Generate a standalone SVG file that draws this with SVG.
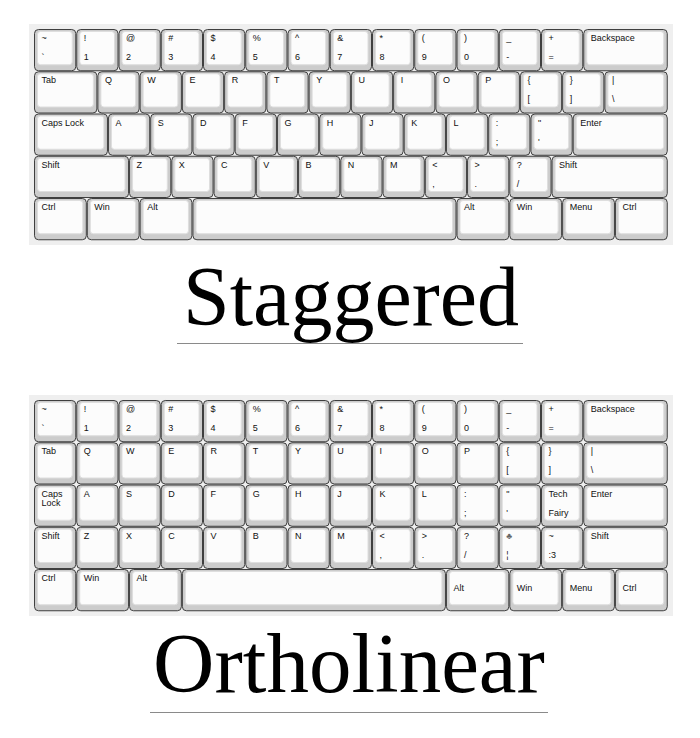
<svg xmlns="http://www.w3.org/2000/svg" xmlns:xlink="http://www.w3.org/1999/xlink" width="700" height="738" viewBox="0 0 700 738">
<style>
.bg{fill:#efefef}
.ko{fill:#cccccc;stroke:#3f3f3f;stroke-width:1}
.ki{fill:#fcfcfc;stroke:#dedede;stroke-width:1}
text.l{font-family:"Liberation Sans",Arial,sans-serif;font-size:9px;fill:#111}
.title{font-family:"Liberation Serif","Times New Roman",serif;fill:#000;text-anchor:middle}
.rule{stroke:#8a8a8a;stroke-width:1}
</style>
<defs>
<g id="k100"><rect class="ko" x="0.5" y="0.5" width="41.25" height="41.25" rx="4"/><rect class="ki" x="3.5" y="2.5" width="34.75" height="33.25" rx="3"/></g>
<g id="k125"><rect class="ko" x="0.5" y="0.5" width="51.81" height="41.25" rx="4"/><rect class="ki" x="3.5" y="2.5" width="45.31" height="33.25" rx="3"/></g>
<g id="k150"><rect class="ko" x="0.5" y="0.5" width="62.38" height="41.25" rx="4"/><rect class="ki" x="3.5" y="2.5" width="55.88" height="33.25" rx="3"/></g>
<g id="k175"><rect class="ko" x="0.5" y="0.5" width="72.94" height="41.25" rx="4"/><rect class="ki" x="3.5" y="2.5" width="66.44" height="33.25" rx="3"/></g>
<g id="k200"><rect class="ko" x="0.5" y="0.5" width="83.5" height="41.25" rx="4"/><rect class="ki" x="3.5" y="2.5" width="77" height="33.25" rx="3"/></g>
<g id="k225"><rect class="ko" x="0.5" y="0.5" width="94.06" height="41.25" rx="4"/><rect class="ki" x="3.5" y="2.5" width="87.56" height="33.25" rx="3"/></g>
<g id="k275"><rect class="ko" x="0.5" y="0.5" width="115.19" height="41.25" rx="4"/><rect class="ki" x="3.5" y="2.5" width="108.69" height="33.25" rx="3"/></g>
<g id="k625"><rect class="ko" x="0.5" y="0.5" width="263.06" height="41.25" rx="4"/><rect class="ki" x="3.5" y="2.5" width="256.56" height="33.25" rx="3"/></g>
</defs>
<rect width="700" height="738" fill="#ffffff"/>

<!-- Staggered keyboard -->
<g id="staggered">
<rect class="bg" x="29" y="24" width="644" height="221"/>
<g id="s1-01" transform="translate(34,29)"><use href="#k100"/><text class="l" x="7.5" y="12">~</text><text class="l" x="7.5" y="31">`</text></g>
<g id="s1-02" transform="translate(76.25,29)"><use href="#k100"/><text class="l" x="7.5" y="12">!</text><text class="l" x="7.5" y="31">1</text></g>
<g id="s1-03" transform="translate(118.5,29)"><use href="#k100"/><text class="l" x="7.5" y="12">@</text><text class="l" x="7.5" y="31">2</text></g>
<g id="s1-04" transform="translate(160.75,29)"><use href="#k100"/><text class="l" x="7.5" y="12">#</text><text class="l" x="7.5" y="31">3</text></g>
<g id="s1-05" transform="translate(203,29)"><use href="#k100"/><text class="l" x="7.5" y="12">$</text><text class="l" x="7.5" y="31">4</text></g>
<g id="s1-06" transform="translate(245.25,29)"><use href="#k100"/><text class="l" x="7.5" y="12">%</text><text class="l" x="7.5" y="31">5</text></g>
<g id="s1-07" transform="translate(287.5,29)"><use href="#k100"/><text class="l" x="7.5" y="12">^</text><text class="l" x="7.5" y="31">6</text></g>
<g id="s1-08" transform="translate(329.75,29)"><use href="#k100"/><text class="l" x="7.5" y="12">&amp;</text><text class="l" x="7.5" y="31">7</text></g>
<g id="s1-09" transform="translate(372,29)"><use href="#k100"/><text class="l" x="7.5" y="12">*</text><text class="l" x="7.5" y="31">8</text></g>
<g id="s1-10" transform="translate(414.25,29)"><use href="#k100"/><text class="l" x="7.5" y="12">(</text><text class="l" x="7.5" y="31">9</text></g>
<g id="s1-11" transform="translate(456.5,29)"><use href="#k100"/><text class="l" x="7.5" y="12">)</text><text class="l" x="7.5" y="31">0</text></g>
<g id="s1-12" transform="translate(498.75,29)"><use href="#k100"/><text class="l" x="7.5" y="12">_</text><text class="l" x="7.5" y="31">-</text></g>
<g id="s1-13" transform="translate(541,29)"><use href="#k100"/><text class="l" x="7.5" y="12">+</text><text class="l" x="7.5" y="31">=</text></g>
<g id="s1-14" transform="translate(583.25,29)"><use href="#k200"/><text class="l" x="7.5" y="12">Backspace</text></g>

<g id="s2-01" transform="translate(34,71.25)"><use href="#k150"/><text class="l" x="7.5" y="12">Tab</text></g>
<g id="s2-02" transform="translate(97.38,71.25)"><use href="#k100"/><text class="l" x="7.5" y="12">Q</text></g>
<g id="s2-03" transform="translate(139.63,71.25)"><use href="#k100"/><text class="l" x="7.5" y="12">W</text></g>
<g id="s2-04" transform="translate(181.88,71.25)"><use href="#k100"/><text class="l" x="7.5" y="12">E</text></g>
<g id="s2-05" transform="translate(224.13,71.25)"><use href="#k100"/><text class="l" x="7.5" y="12">R</text></g>
<g id="s2-06" transform="translate(266.38,71.25)"><use href="#k100"/><text class="l" x="7.5" y="12">T</text></g>
<g id="s2-07" transform="translate(308.63,71.25)"><use href="#k100"/><text class="l" x="7.5" y="12">Y</text></g>
<g id="s2-08" transform="translate(350.88,71.25)"><use href="#k100"/><text class="l" x="7.5" y="12">U</text></g>
<g id="s2-09" transform="translate(393.13,71.25)"><use href="#k100"/><text class="l" x="7.5" y="12">I</text></g>
<g id="s2-10" transform="translate(435.38,71.25)"><use href="#k100"/><text class="l" x="7.5" y="12">O</text></g>
<g id="s2-11" transform="translate(477.63,71.25)"><use href="#k100"/><text class="l" x="7.5" y="12">P</text></g>
<g id="s2-12" transform="translate(519.88,71.25)"><use href="#k100"/><text class="l" x="7.5" y="12">{</text><text class="l" x="7.5" y="31">[</text></g>
<g id="s2-13" transform="translate(562.13,71.25)"><use href="#k100"/><text class="l" x="7.5" y="12">}</text><text class="l" x="7.5" y="31">]</text></g>
<g id="s2-14" transform="translate(604.38,71.25)"><use href="#k150"/><text class="l" x="7.5" y="12">|</text><text class="l" x="7.5" y="31">\</text></g>

<g id="s3-01" transform="translate(34,113.5)"><use href="#k175"/><text class="l" x="7.5" y="12">Caps Lock</text></g>
<g id="s3-02" transform="translate(107.94,113.5)"><use href="#k100"/><text class="l" x="7.5" y="12">A</text></g>
<g id="s3-03" transform="translate(150.19,113.5)"><use href="#k100"/><text class="l" x="7.5" y="12">S</text></g>
<g id="s3-04" transform="translate(192.44,113.5)"><use href="#k100"/><text class="l" x="7.5" y="12">D</text></g>
<g id="s3-05" transform="translate(234.69,113.5)"><use href="#k100"/><text class="l" x="7.5" y="12">F</text></g>
<g id="s3-06" transform="translate(276.94,113.5)"><use href="#k100"/><text class="l" x="7.5" y="12">G</text></g>
<g id="s3-07" transform="translate(319.19,113.5)"><use href="#k100"/><text class="l" x="7.5" y="12">H</text></g>
<g id="s3-08" transform="translate(361.44,113.5)"><use href="#k100"/><text class="l" x="7.5" y="12">J</text></g>
<g id="s3-09" transform="translate(403.69,113.5)"><use href="#k100"/><text class="l" x="7.5" y="12">K</text></g>
<g id="s3-10" transform="translate(445.94,113.5)"><use href="#k100"/><text class="l" x="7.5" y="12">L</text></g>
<g id="s3-11" transform="translate(488.19,113.5)"><use href="#k100"/><text class="l" x="7.5" y="12">:</text><text class="l" x="7.5" y="31">;</text></g>
<g id="s3-12" transform="translate(530.44,113.5)"><use href="#k100"/><text class="l" x="7.5" y="12">"</text><text class="l" x="7.5" y="31">'</text></g>
<g id="s3-13" transform="translate(572.69,113.5)"><use href="#k225"/><text class="l" x="7.5" y="12">Enter</text></g>

<g id="s4-01" transform="translate(34,155.75)"><use href="#k225"/><text class="l" x="7.5" y="12">Shift</text></g>
<g id="s4-02" transform="translate(129.06,155.75)"><use href="#k100"/><text class="l" x="7.5" y="12">Z</text></g>
<g id="s4-03" transform="translate(171.31,155.75)"><use href="#k100"/><text class="l" x="7.5" y="12">X</text></g>
<g id="s4-04" transform="translate(213.56,155.75)"><use href="#k100"/><text class="l" x="7.5" y="12">C</text></g>
<g id="s4-05" transform="translate(255.81,155.75)"><use href="#k100"/><text class="l" x="7.5" y="12">V</text></g>
<g id="s4-06" transform="translate(298.06,155.75)"><use href="#k100"/><text class="l" x="7.5" y="12">B</text></g>
<g id="s4-07" transform="translate(340.31,155.75)"><use href="#k100"/><text class="l" x="7.5" y="12">N</text></g>
<g id="s4-08" transform="translate(382.56,155.75)"><use href="#k100"/><text class="l" x="7.5" y="12">M</text></g>
<g id="s4-09" transform="translate(424.81,155.75)"><use href="#k100"/><text class="l" x="7.5" y="12">&lt;</text><text class="l" x="7.5" y="31">,</text></g>
<g id="s4-10" transform="translate(467.06,155.75)"><use href="#k100"/><text class="l" x="7.5" y="12">&gt;</text><text class="l" x="7.5" y="31">.</text></g>
<g id="s4-11" transform="translate(509.31,155.75)"><use href="#k100"/><text class="l" x="7.5" y="12">?</text><text class="l" x="7.5" y="31">/</text></g>
<g id="s4-12" transform="translate(551.56,155.75)"><use href="#k275"/><text class="l" x="7.5" y="12">Shift</text></g>

<g id="s5-01" transform="translate(34,198)"><use href="#k125"/><text class="l" x="7.5" y="12">Ctrl</text></g>
<g id="s5-02" transform="translate(86.81,198)"><use href="#k125"/><text class="l" x="7.5" y="12">Win</text></g>
<g id="s5-03" transform="translate(139.63,198)"><use href="#k125"/><text class="l" x="7.5" y="12">Alt</text></g>
<g id="s5-04" transform="translate(192.44,198)"><use href="#k625"/></g>
<g id="s5-05" transform="translate(456.5,198)"><use href="#k125"/><text class="l" x="7.5" y="12">Alt</text></g>
<g id="s5-06" transform="translate(509.31,198)"><use href="#k125"/><text class="l" x="7.5" y="12">Win</text></g>
<g id="s5-07" transform="translate(562.13,198)"><use href="#k125"/><text class="l" x="7.5" y="12">Menu</text></g>
<g id="s5-08" transform="translate(614.94,198)"><use href="#k125"/><text class="l" x="7.5" y="12">Ctrl</text></g>
</g>

<g id="title-staggered">
<text class="title" x="351" y="325" font-size="84">Staggered</text>
<line class="rule" x1="177" y1="343.5" x2="523" y2="343.5"/>
</g>

<!-- Ortholinear keyboard -->
<g id="ortholinear">
<rect class="bg" x="29" y="395" width="644" height="221"/>
<g id="o1-01" transform="translate(34,400)"><use href="#k100"/><text class="l" x="7.5" y="12">~</text><text class="l" x="7.5" y="31">`</text></g>
<g id="o1-02" transform="translate(76.25,400)"><use href="#k100"/><text class="l" x="7.5" y="12">!</text><text class="l" x="7.5" y="31">1</text></g>
<g id="o1-03" transform="translate(118.5,400)"><use href="#k100"/><text class="l" x="7.5" y="12">@</text><text class="l" x="7.5" y="31">2</text></g>
<g id="o1-04" transform="translate(160.75,400)"><use href="#k100"/><text class="l" x="7.5" y="12">#</text><text class="l" x="7.5" y="31">3</text></g>
<g id="o1-05" transform="translate(203,400)"><use href="#k100"/><text class="l" x="7.5" y="12">$</text><text class="l" x="7.5" y="31">4</text></g>
<g id="o1-06" transform="translate(245.25,400)"><use href="#k100"/><text class="l" x="7.5" y="12">%</text><text class="l" x="7.5" y="31">5</text></g>
<g id="o1-07" transform="translate(287.5,400)"><use href="#k100"/><text class="l" x="7.5" y="12">^</text><text class="l" x="7.5" y="31">6</text></g>
<g id="o1-08" transform="translate(329.75,400)"><use href="#k100"/><text class="l" x="7.5" y="12">&amp;</text><text class="l" x="7.5" y="31">7</text></g>
<g id="o1-09" transform="translate(372,400)"><use href="#k100"/><text class="l" x="7.5" y="12">*</text><text class="l" x="7.5" y="31">8</text></g>
<g id="o1-10" transform="translate(414.25,400)"><use href="#k100"/><text class="l" x="7.5" y="12">(</text><text class="l" x="7.5" y="31">9</text></g>
<g id="o1-11" transform="translate(456.5,400)"><use href="#k100"/><text class="l" x="7.5" y="12">)</text><text class="l" x="7.5" y="31">0</text></g>
<g id="o1-12" transform="translate(498.75,400)"><use href="#k100"/><text class="l" x="7.5" y="12">_</text><text class="l" x="7.5" y="31">-</text></g>
<g id="o1-13" transform="translate(541,400)"><use href="#k100"/><text class="l" x="7.5" y="12">+</text><text class="l" x="7.5" y="31">=</text></g>
<g id="o1-14" transform="translate(583.25,400)"><use href="#k200"/><text class="l" x="7.5" y="12">Backspace</text></g>

<g id="o2-01" transform="translate(34,442.25)"><use href="#k100"/><text class="l" x="7.5" y="12">Tab</text></g>
<g id="o2-02" transform="translate(76.25,442.25)"><use href="#k100"/><text class="l" x="7.5" y="12">Q</text></g>
<g id="o2-03" transform="translate(118.5,442.25)"><use href="#k100"/><text class="l" x="7.5" y="12">W</text></g>
<g id="o2-04" transform="translate(160.75,442.25)"><use href="#k100"/><text class="l" x="7.5" y="12">E</text></g>
<g id="o2-05" transform="translate(203,442.25)"><use href="#k100"/><text class="l" x="7.5" y="12">R</text></g>
<g id="o2-06" transform="translate(245.25,442.25)"><use href="#k100"/><text class="l" x="7.5" y="12">T</text></g>
<g id="o2-07" transform="translate(287.5,442.25)"><use href="#k100"/><text class="l" x="7.5" y="12">Y</text></g>
<g id="o2-08" transform="translate(329.75,442.25)"><use href="#k100"/><text class="l" x="7.5" y="12">U</text></g>
<g id="o2-09" transform="translate(372,442.25)"><use href="#k100"/><text class="l" x="7.5" y="12">I</text></g>
<g id="o2-10" transform="translate(414.25,442.25)"><use href="#k100"/><text class="l" x="7.5" y="12">O</text></g>
<g id="o2-11" transform="translate(456.5,442.25)"><use href="#k100"/><text class="l" x="7.5" y="12">P</text></g>
<g id="o2-12" transform="translate(498.75,442.25)"><use href="#k100"/><text class="l" x="7.5" y="12">{</text><text class="l" x="7.5" y="31">[</text></g>
<g id="o2-13" transform="translate(541,442.25)"><use href="#k100"/><text class="l" x="7.5" y="12">}</text><text class="l" x="7.5" y="31">]</text></g>
<g id="o2-14" transform="translate(583.25,442.25)"><use href="#k200"/><text class="l" x="7.5" y="12">|</text><text class="l" x="7.5" y="31">\</text></g>

<g id="o3-01" transform="translate(34,484.5)"><use href="#k100"/><text class="l" x="7.5" y="12">Caps</text><text class="l" x="7.5" y="21.5">Lock</text></g>
<g id="o3-02" transform="translate(76.25,484.5)"><use href="#k100"/><text class="l" x="7.5" y="12">A</text></g>
<g id="o3-03" transform="translate(118.5,484.5)"><use href="#k100"/><text class="l" x="7.5" y="12">S</text></g>
<g id="o3-04" transform="translate(160.75,484.5)"><use href="#k100"/><text class="l" x="7.5" y="12">D</text></g>
<g id="o3-05" transform="translate(203,484.5)"><use href="#k100"/><text class="l" x="7.5" y="12">F</text></g>
<g id="o3-06" transform="translate(245.25,484.5)"><use href="#k100"/><text class="l" x="7.5" y="12">G</text></g>
<g id="o3-07" transform="translate(287.5,484.5)"><use href="#k100"/><text class="l" x="7.5" y="12">H</text></g>
<g id="o3-08" transform="translate(329.75,484.5)"><use href="#k100"/><text class="l" x="7.5" y="12">J</text></g>
<g id="o3-09" transform="translate(372,484.5)"><use href="#k100"/><text class="l" x="7.5" y="12">K</text></g>
<g id="o3-10" transform="translate(414.25,484.5)"><use href="#k100"/><text class="l" x="7.5" y="12">L</text></g>
<g id="o3-11" transform="translate(456.5,484.5)"><use href="#k100"/><text class="l" x="7.5" y="12">:</text><text class="l" x="7.5" y="31">;</text></g>
<g id="o3-12" transform="translate(498.75,484.5)"><use href="#k100"/><text class="l" x="7.5" y="12">"</text><text class="l" x="7.5" y="31">'</text></g>
<g id="o3-13" transform="translate(541,484.5)"><use href="#k100"/><text class="l" x="7.5" y="12">Tech</text><text class="l" x="7.5" y="31">Fairy</text></g>
<g id="o3-14" transform="translate(583.25,484.5)"><use href="#k200"/><text class="l" x="7.5" y="12">Enter</text></g>

<g id="o4-01" transform="translate(34,526.75)"><use href="#k100"/><text class="l" x="7.5" y="12">Shift</text></g>
<g id="o4-02" transform="translate(76.25,526.75)"><use href="#k100"/><text class="l" x="7.5" y="12">Z</text></g>
<g id="o4-03" transform="translate(118.5,526.75)"><use href="#k100"/><text class="l" x="7.5" y="12">X</text></g>
<g id="o4-04" transform="translate(160.75,526.75)"><use href="#k100"/><text class="l" x="7.5" y="12">C</text></g>
<g id="o4-05" transform="translate(203,526.75)"><use href="#k100"/><text class="l" x="7.5" y="12">V</text></g>
<g id="o4-06" transform="translate(245.25,526.75)"><use href="#k100"/><text class="l" x="7.5" y="12">B</text></g>
<g id="o4-07" transform="translate(287.5,526.75)"><use href="#k100"/><text class="l" x="7.5" y="12">N</text></g>
<g id="o4-08" transform="translate(329.75,526.75)"><use href="#k100"/><text class="l" x="7.5" y="12">M</text></g>
<g id="o4-09" transform="translate(372,526.75)"><use href="#k100"/><text class="l" x="7.5" y="12">&lt;</text><text class="l" x="7.5" y="31">,</text></g>
<g id="o4-10" transform="translate(414.25,526.75)"><use href="#k100"/><text class="l" x="7.5" y="12">&gt;</text><text class="l" x="7.5" y="31">.</text></g>
<g id="o4-11" transform="translate(456.5,526.75)"><use href="#k100"/><text class="l" x="7.5" y="12">?</text><text class="l" x="7.5" y="31">/</text></g>
<g id="o4-12" transform="translate(498.75,526.75)"><use href="#k100"/><text class="l" x="7.5" y="12" style="fill:#666">♣</text><text class="l" x="7.5" y="31">¦</text></g>
<g id="o4-13" transform="translate(541,526.75)"><use href="#k100"/><text class="l" x="7.5" y="12">~</text><text class="l" x="7.5" y="31">:3</text></g>
<g id="o4-14" transform="translate(583.25,526.75)"><use href="#k200"/><text class="l" x="7.5" y="12">Shift</text></g>

<g id="o5-01" transform="translate(34,569)"><use href="#k100"/><text class="l" x="7.5" y="12">Ctrl</text></g>
<g id="o5-02" transform="translate(76.25,569)"><use href="#k125"/><text class="l" x="7.5" y="12">Win</text></g>
<g id="o5-03" transform="translate(129.06,569)"><use href="#k125"/><text class="l" x="7.5" y="12">Alt</text></g>
<g id="o5-04" transform="translate(181.88,569)"><use href="#k625"/></g>
<g id="o5-05" transform="translate(445.94,569)"><use href="#k150"/><text class="l" x="7.5" y="21.5">Alt</text></g>
<g id="o5-06" transform="translate(509.31,569)"><use href="#k125"/><text class="l" x="7.5" y="21.5">Win</text></g>
<g id="o5-07" transform="translate(562.13,569)"><use href="#k125"/><text class="l" x="7.5" y="21.5">Menu</text></g>
<g id="o5-08" transform="translate(614.94,569)"><use href="#k125"/><text class="l" x="7.5" y="21.5">Ctrl</text></g>
</g>

<g id="title-ortholinear">
<text class="title" x="349" y="692" font-size="85">Ortholinear</text>
<line class="rule" x1="150" y1="712.5" x2="548" y2="712.5"/>
</g>
</svg>
